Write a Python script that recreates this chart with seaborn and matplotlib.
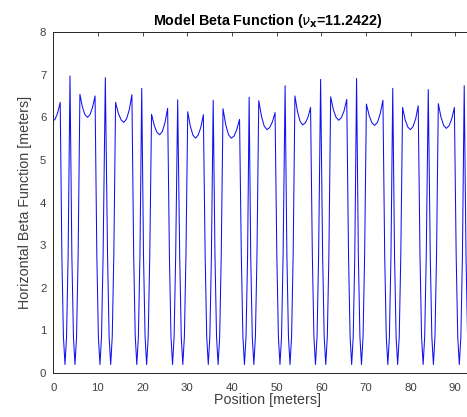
import matplotlib
matplotlib.use("Agg")
import matplotlib.pyplot as plt
import seaborn as sns
import pandas as pd

# ---- data (position [m], horizontal beta [m]) ----
position = [
    0.0, 0.38, 0.97, 1.55,
    1.92, 2.27, 2.62, 2.97, 3.32, 3.74, 4.16, 4.51, 4.86, 5.21, 5.56,
    5.96, 6.52, 7.09, 7.65, 8.22, 8.78, 9.35,
    9.75, 10.1, 10.45, 10.8, 11.15, 11.65, 12.15, 12.5, 12.85, 13.2, 13.55,
    13.95, 14.57, 15.18, 15.8, 16.4, 17.0, 17.6,
    18.0, 18.35, 18.7, 19.05, 19.4, 19.8, 20.2, 20.55, 20.9, 21.25, 21.6,
    22.0, 22.6, 23.2, 23.8, 24.4, 25.0, 25.6,
    26.0, 26.35, 26.7, 27.05, 27.4, 27.85, 28.3, 28.65, 29.0, 29.35, 29.7,
    30.1, 30.68, 31.27, 31.85, 32.43, 33.02, 33.6,
    34.0, 34.35, 34.7, 35.05, 35.4, 35.8, 36.2, 36.55, 36.9, 37.25, 37.6,
    38.0, 38.62, 39.23, 39.85, 40.47, 41.08, 41.7,
    42.1, 42.45, 42.8, 43.15, 43.5, 43.85, 44.2, 44.55, 44.9, 45.25, 45.6,
    46.0, 46.62, 47.23, 47.85, 48.45, 49.05, 49.65,
    50.05, 50.4, 50.75, 51.1, 51.45, 51.9, 52.3, 52.65, 53.0, 53.35, 53.7,
    54.1, 54.68, 55.27, 55.85, 56.43, 57.02, 57.6,
    58.0, 58.35, 58.7, 59.05, 59.4, 59.85, 60.3, 60.65, 61.0, 61.35, 61.7,
    62.1, 62.7, 63.3, 63.9, 64.5, 65.1, 65.7,
    66.1, 66.45, 66.8, 67.15, 67.5, 67.9, 68.3, 68.65, 69.0, 69.35, 69.7,
    70.1, 70.72, 71.33, 71.95, 72.57, 73.18, 73.8,
    74.2, 74.55, 74.9, 75.25, 75.6, 76.0, 76.4, 76.75, 77.1, 77.45, 77.8,
    78.2, 78.78, 79.37, 79.95, 80.53, 81.12, 81.7,
    82.1, 82.45, 82.8, 83.15, 83.5, 83.95, 84.4, 84.75, 85.1, 85.45, 85.8,
    86.2, 86.8, 87.4, 88.0, 88.6, 89.2, 89.8,
    90.2, 90.55, 90.9, 91.25, 91.6, 92.0, 92.4, 92.75, 93.1, 93.45, 93.8,
    94.2, 94.8, 95.4, 96.0,
]
beta = [
    5.92, 5.95, 6.10, 6.35,
    2.75, 0.85, 0.2, 0.85, 2.75, 6.97, 2.75, 0.85, 0.2, 0.85, 2.75,
    6.54, 6.24, 6.06, 6.00, 6.06, 6.23, 6.50,
    2.75, 0.85, 0.2, 0.85, 2.75, 6.93, 2.75, 0.85, 0.2, 0.85, 2.75,
    6.35, 6.09, 5.94, 5.88, 5.96, 6.17, 6.53,
    2.75, 0.85, 0.2, 0.85, 2.75, 6.68, 2.75, 0.85, 0.2, 0.85, 2.75,
    6.07, 5.81, 5.65, 5.59, 5.66, 5.87, 6.21,
    2.75, 0.85, 0.2, 0.85, 2.75, 6.41, 2.75, 0.85, 0.2, 0.85, 2.75,
    6.13, 5.79, 5.58, 5.51, 5.58, 5.76, 6.06,
    2.75, 0.85, 0.2, 0.85, 2.75, 6.40, 2.75, 0.85, 0.2, 0.85, 2.75,
    6.20, 5.82, 5.59, 5.51, 5.56, 5.71, 5.95,
    2.75, 0.85, 0.2, 0.85, 2.75, 6.47, 2.75, 0.85, 0.2, 0.85, 2.75,
    6.39, 6.02, 5.79, 5.71, 5.76, 5.89, 6.11,
    2.75, 0.85, 0.2, 0.85, 2.75, 6.74, 2.75, 0.85, 0.2, 0.85, 2.75,
    6.50, 6.13, 5.90, 5.82, 5.87, 6.00, 6.23,
    2.75, 0.85, 0.2, 0.85, 2.75, 6.89, 2.75, 0.85, 0.2, 0.85, 2.75,
    6.48, 6.18, 6.00, 5.93, 5.99, 6.15, 6.42,
    2.75, 0.85, 0.2, 0.85, 2.75, 6.91, 2.75, 0.85, 0.2, 0.85, 2.75,
    6.31, 6.04, 5.87, 5.81, 5.88, 6.08, 6.40,
    2.75, 0.85, 0.2, 0.85, 2.75, 6.68, 2.75, 0.85, 0.2, 0.85, 2.75,
    6.23, 5.94, 5.77, 5.71, 5.78, 5.96, 6.27,
    2.75, 0.85, 0.2, 0.85, 2.75, 6.65, 2.75, 0.85, 0.2, 0.85, 2.75,
    6.32, 6.00, 5.81, 5.74, 5.80, 5.96, 6.23,
    2.75, 0.85, 0.2, 0.85, 2.75, 6.74, 2.75, 0.85, 0.2, 0.85, 2.75,
    6.40, 6.10, 5.95, 5.92,
]
x_ticks = [0, 10, 20, 30, 40, 50, 60, 70, 80, 90]
y_ticks = [0, 1, 2, 3, 4, 5, 6, 7, 8]

title_text = r"Model Beta Function ($\nu_{\mathbf{x}}$=11.2422)"
x_label = "Position [meters]"
y_label = "Horizontal Beta Function [meters]"

df = pd.DataFrame({"Position": position, "Beta": beta})

sns.set_style("white")
plt.rcParams["font.family"] = ["Liberation Sans", "DejaVu Sans"]
plt.rcParams["mathtext.fontset"] = "dejavusans"

gray = "#262626"
label_gray = "#404040"
fig = plt.figure(figsize=(4.67, 4.17), dpi=100)
ax = fig.add_axes([0.1141, 0.1055, 0.9182, 0.8177])

sns.lineplot(data=df, x="Position", y="Beta", ax=ax, color="#1010f0",
             linewidth=0.75, estimator=None, sort=False)

ax.set_xlim(0, 96)
ax.set_ylim(0, 8)
ax.set_xticks(x_ticks)
ax.set_yticks(y_ticks)
ax.tick_params(direction="in", length=3, width=0.6, color=gray,
               labelcolor=label_gray, labelsize=8.2, top=True, right=True)
ax.tick_params(axis="x", pad=7)
ax.tick_params(axis="y", pad=5)
for sp in ax.spines.values():
    sp.set_visible(True)
    sp.set_color(gray)
    sp.set_linewidth(0.7)

ax.set_xlabel(x_label, fontsize=10.3, color=label_gray, labelpad=0)
ax.set_ylabel(y_label, fontsize=10.3, color=label_gray, labelpad=6)
ax.set_title(title_text, fontsize=10.3, fontweight="bold", color="black", pad=5)
ax.grid(False)

fig.savefig("out.png", dpi=100)
